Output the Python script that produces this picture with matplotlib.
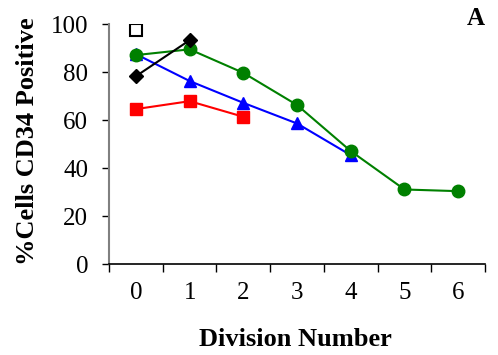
import matplotlib
matplotlib.use('Agg')
import matplotlib.pyplot as plt

divisions = [0, 1, 2, 3, 4, 5, 6]
green_circle = [87.1, 89.5, 79.7, 66.3, 47.1, 31.1, 30.4]
blue_triangle = [87.5, 76.3, 67.2, 58.6, 45.4]
red_square = [64.6, 67.9, 61.4]
black_diamond = [78.3, 93.3]
open_square = [97.5]

plt.rcParams['font.family'] = ['Liberation Serif', 'DejaVu Serif']

fig = plt.figure(figsize=(4.98, 3.55), dpi=100)
ax = fig.add_axes([0.219, 0.256, 0.755, 0.676])

ax.plot(divisions[:len(red_square)], red_square, color='#ff0000', marker='s', ms=8, lw=1.5)
ax.plot(divisions[:len(blue_triangle)], blue_triangle, color='#0000ff', marker='^', ms=9, lw=1.5)
ax.plot(divisions[:len(green_circle)], green_circle, color='#008000', marker='o', ms=9, lw=1.5)
ax.plot(divisions[:len(black_diamond)], black_diamond, color='black', marker='D', ms=7, lw=1.5)
ax.plot(divisions[:len(open_square)], open_square, ls='none', marker='s', ms=8,
        mfc='white', mec='black', mew=1.5)

ax.set_xlim(-0.5, 6.5)
ax.set_ylim(0, 100)
ax.set_yticks([0, 20, 40, 60, 80, 100])
# category-style axis: ticks between categories, labels centred on them
ax.set_xticks([d - 0.5 for d in divisions] + [6.5])
ax.set_xticklabels([])
ax.set_xticks(divisions, minor=True)
ax.set_xticklabels([str(d) for d in divisions], minor=True)
ax.tick_params(axis='x', which='minor', length=0, pad=13, labelsize=18)
ax.tick_params(axis='x', which='major', length=6, width=1, direction='out')
ax.tick_params(axis='y', length=5, width=1, labelsize=18, pad=10)

ax.spines['top'].set_visible(False)
ax.spines['right'].set_visible(False)
ax.spines['left'].set_color('#808080')
ax.spines['left'].set_linewidth(1.5)
ax.spines['bottom'].set_linewidth(1.2)

ax.set_xlabel('Division Number', fontsize=19, fontweight='bold', va='center')
ax.xaxis.set_label_coords(0.594, 0.045, transform=fig.transFigure)
ax.set_ylabel('%Cells CD34 Positive', fontsize=19, fontweight='bold', va='center')
ax.yaxis.set_label_coords(0.056, 0.601, transform=fig.transFigure)
fig.text(0.956, 0.949, 'A', fontsize=18, fontweight='bold', ha='center', va='center')

fig.savefig('out.png', dpi=100)
